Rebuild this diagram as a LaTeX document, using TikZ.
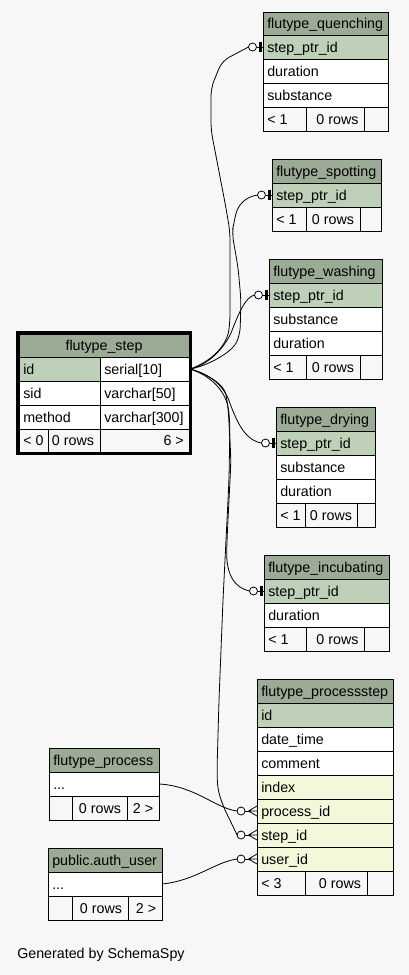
\documentclass[tikz,border=0pt]{standalone}
\usepackage{fontspec}
\setmainfont{Liberation Sans}
\definecolor{bgc}{HTML}{F7F7F7}
\definecolor{hdr}{HTML}{9BAB96}
\definecolor{pkc}{HTML}{BED1B8}
\definecolor{idxc}{HTML}{F4F7DA}
\tikzset{
  cellline/.style={draw=black,line width=0.75pt},
  txt/.style={inner sep=0pt,font=\fontsize{10.7pt}{12pt}\selectfont,text=black},
  conn/.style={draw=black,line width=0.6pt},
}
% row cell with left-aligned text
\newcommand\trow[7]{\filldraw[fill=#6,cellline] (#2,#3) rectangle (#4,#5);
  \node[txt,anchor=base west] (#1) at ({#2+4},{(#3+#5)/2+5}) {#7};}
\newcommand\cellbox[5]{\filldraw[fill=#5,cellline] (#1,#2) rectangle (#3,#4);}
% one-end: circle + bar, #2 = table left x, #3 = row centre y
\newcommand\oneend[3]{\coordinate (#1) at ({#2-14.5},#3);
  \draw[conn] ({#2-6.5},#3) -- (#2,#3);
  \draw[conn,fill=white] ({#2-10.5},#3) circle[radius=3pt];
  \draw[line width=1.9pt] ({#2-2.7},{#3-5}) -- ({#2-2.7},{#3+5});}
% many-end: circle + crow's foot
\newcommand\manyend[3]{\coordinate (#1) at ({#2-20},#3);
  \draw[conn,fill=white] ({#2-16},#3) circle[radius=3pt];
  \draw[conn] ({#2-12},#3) -- ({#2-8.5},#3);
  \draw[conn] ({#2-8.5},#3) -- (#2,{#3-5}) ({#2-8.5},#3) -- (#2,#3) ({#2-8.5},#3) -- (#2,{#3+5});}
\begin{document}
\begin{tikzpicture}[x=0.75pt,y=-0.75pt]
\fill[bgc] (0,0) rectangle (409,975);
\useasboundingbox (0,0) rectangle (409,975);

% ---------- connectors ----------
\coordinate (st-out) at (190,369);
\coordinate (pr-out) at (159.3,784);
\coordinate (au-out) at (161.7,884);
\oneend{q-in}{263}{47}
\oneend{s-in}{272}{195}
\oneend{w-in}{269}{295}
\oneend{d-in}{276}{443}
\oneend{i-in}{264}{591}
\manyend{p-proc}{257}{811}
\manyend{p-step}{257}{835}
\manyend{p-user}{257}{859}

\draw[conn,rounded corners=6] (st-out) .. controls (205,364) and (226,350) .. (230,322) -- (230,232) -- (226,208) -- (211,130) -- (211,88) -- (222,61) -- (q-in);
\draw[conn,rounded corners=6] (st-out) .. controls (208,366) and (232,352) .. (240,335) -- (241,300) -- (238,267) -- (232,233) -- (234,222) .. controls (238,205) and (245,197) .. (s-in);
\draw[conn] (st-out) .. controls (205,366) and (222,352) .. (231,333) .. controls (238,315) and (245,297) .. (w-in);
\draw[conn] (st-out) .. controls (210,374) and (222,385) .. (228,398) .. controls (236,420) and (244,440) .. (d-in);
\draw[conn,rounded corners=8] (st-out) .. controls (210,375) and (224,385) .. (228,405) -- (231,460) -- (227,540) .. controls (226,575) and (235,588) .. (i-in);
\draw[conn,rounded corners=8] (st-out) .. controls (212,376) and (226,392) .. (230,420) -- (229,480) -- (223,600) -- (219,700) -- (217,770) .. controls (218,800) and (228,815) .. (p-step);
\draw[conn] (pr-out) .. controls (195,786) and (215,808) .. (p-proc);
\draw[conn] (au-out) .. controls (195,881) and (215,862) .. (p-user);

% ---------- flutype_quenching ----------
\trow{q-h}{263}{12}{388}{35}{hdr}{flutype\_quenching}
\trow{q-1}{263}{35}{388}{59}{pkc}{step\_ptr\_id}
\trow{q-2}{263}{59}{388}{83}{white}{duration}
\trow{q-3}{263}{83}{388}{107}{white}{substance}
\trow{q-f1}{263}{107}{306}{131}{bgc}{< 1}
\cellbox{306}{107}{364}{131}{bgc}
\node[txt,anchor=base] (q-f2) at (337.5,124) {0 rows};
\cellbox{364}{107}{388}{131}{bgc}

% ---------- flutype_spotting ----------
\trow{s-h}{272}{159}{381}{183}{hdr}{flutype\_spotting}
\trow{s-1}{272}{183}{381}{207}{pkc}{step\_ptr\_id}
\trow{s-f1}{272}{207}{306}{231}{bgc}{< 1}
\cellbox{306}{207}{360}{231}{bgc}
\node[txt,anchor=base] (s-f2) at (333,224) {0 rows};
\cellbox{360}{207}{381}{231}{bgc}

% ---------- flutype_washing ----------
\trow{w-h}{269}{259}{382}{283}{hdr}{flutype\_washing}
\trow{w-1}{269}{283}{382}{307}{pkc}{step\_ptr\_id}
\trow{w-2}{269}{307}{382}{331}{white}{substance}
\trow{w-3}{269}{331}{382}{355}{white}{duration}
\trow{w-f1}{269}{355}{306}{379}{bgc}{< 1}
\cellbox{306}{355}{360}{379}{bgc}
\node[txt,anchor=base] (w-f2) at (333,372) {0 rows};
\cellbox{360}{355}{382}{379}{bgc}

% ---------- flutype_drying ----------
\trow{d-h}{276}{407}{375}{431}{hdr}{flutype\_drying}
\trow{d-1}{276}{431}{375}{455}{pkc}{step\_ptr\_id}
\trow{d-2}{276}{455}{375}{479}{white}{substance}
\trow{d-3}{276}{479}{375}{503}{white}{duration}
\trow{d-f1}{276}{503}{305}{527}{bgc}{< 1}
\cellbox{305}{503}{357}{527}{bgc}
\node[txt,anchor=base] (d-f2) at (331,520) {0 rows};
\cellbox{357}{503}{375}{527}{bgc}

% ---------- flutype_incubating ----------
\trow{i-h}{264}{555}{389}{579}{hdr}{flutype\_incubating}
\trow{i-1}{264}{579}{389}{603}{pkc}{step\_ptr\_id}
\trow{i-2}{264}{603}{389}{627}{white}{duration}
\trow{i-f1}{264}{627}{306}{651}{bgc}{< 1}
\cellbox{306}{627}{364}{651}{bgc}
\node[txt,anchor=base] (i-f2) at (337.5,644) {0 rows};
\cellbox{364}{627}{389}{651}{bgc}

% ---------- flutype_processstep ----------
\trow{p-h}{257}{679}{393}{703}{hdr}{flutype\_processstep}
\trow{p-1}{257}{703}{393}{727}{pkc}{id}
\trow{p-2}{257}{727}{393}{751}{white}{date\_time}
\trow{p-3}{257}{751}{393}{775}{white}{comment}
\trow{p-4}{257}{775}{393}{799}{idxc}{index}
\trow{p-5}{257}{799}{393}{823}{idxc}{process\_id}
\trow{p-6}{257}{823}{393}{847}{idxc}{step\_id}
\trow{p-7}{257}{847}{393}{871}{idxc}{user\_id}
\trow{p-f1}{257}{871}{305}{895}{bgc}{< 3}
\cellbox{305}{871}{367}{895}{bgc}
\node[txt,anchor=base] (p-f2) at (340,888) {0 rows};
\cellbox{367}{871}{393}{895}{bgc}

% ---------- flutype_process ----------
\trow{pr-h}{49}{748}{159}{772}{hdr}{flutype\_process}
\trow{pr-1}{49}{772}{159}{796}{white}{...}
\cellbox{49}{796}{72}{820}{bgc}
\cellbox{72}{796}{127}{820}{bgc}
\node[txt,anchor=base] (pr-f2) at (100,813) {0 rows};
\cellbox{127}{796}{159}{820}{bgc}
\node[txt,anchor=base] (pr-f3) at (143,813) {2 >};

% ---------- public.auth_user ----------
\trow{au-h}{48}{848}{162}{872}{hdr}{public.auth\_user}
\trow{au-1}{48}{872}{162}{896}{white}{...}
\cellbox{48}{896}{72}{920}{bgc}
\cellbox{72}{896}{128}{920}{bgc}
\node[txt,anchor=base] (au-f2) at (101,913) {0 rows};
\cellbox{128}{896}{162}{920}{bgc}
\node[txt,anchor=base] (au-f3) at (146,913) {2 >};

% ---------- flutype_step ----------
\cellbox{19}{334}{189}{357}{hdr}
\node[txt,anchor=base] (st-h) at (104,350.5) {flutype\_step};
\trow{st-id}{19}{357}{100}{381}{pkc}{id}
\trow{st-idt}{100}{357}{189}{381}{white}{serial[10]}
\trow{st-sid}{19}{381}{100}{405}{white}{sid}
\trow{st-sidt}{100}{381}{189}{405}{white}{varchar[50]}
\trow{st-m}{19}{405}{100}{429}{white}{method}
\trow{st-mt}{100}{405}{189}{429}{white}{varchar[300]}
\trow{st-f1}{19}{429}{48}{452}{bgc}{< 0}
\cellbox{48}{429}{100}{452}{bgc}
\node[txt,anchor=base] (st-f2) at (73,445.5) {0 rows};
\cellbox{100}{429}{189}{452}{bgc}
\node[txt,anchor=base east] (st-f3) at (184,445.5) {6 >};
\draw[line width=2.25pt] (17.5,332.5) rectangle (190.5,453.5);

% ---------- footer text ----------
\node[txt,anchor=base west] (gen) at (17,958) {Generated by SchemaSpy};
\end{tikzpicture}
\end{document}
